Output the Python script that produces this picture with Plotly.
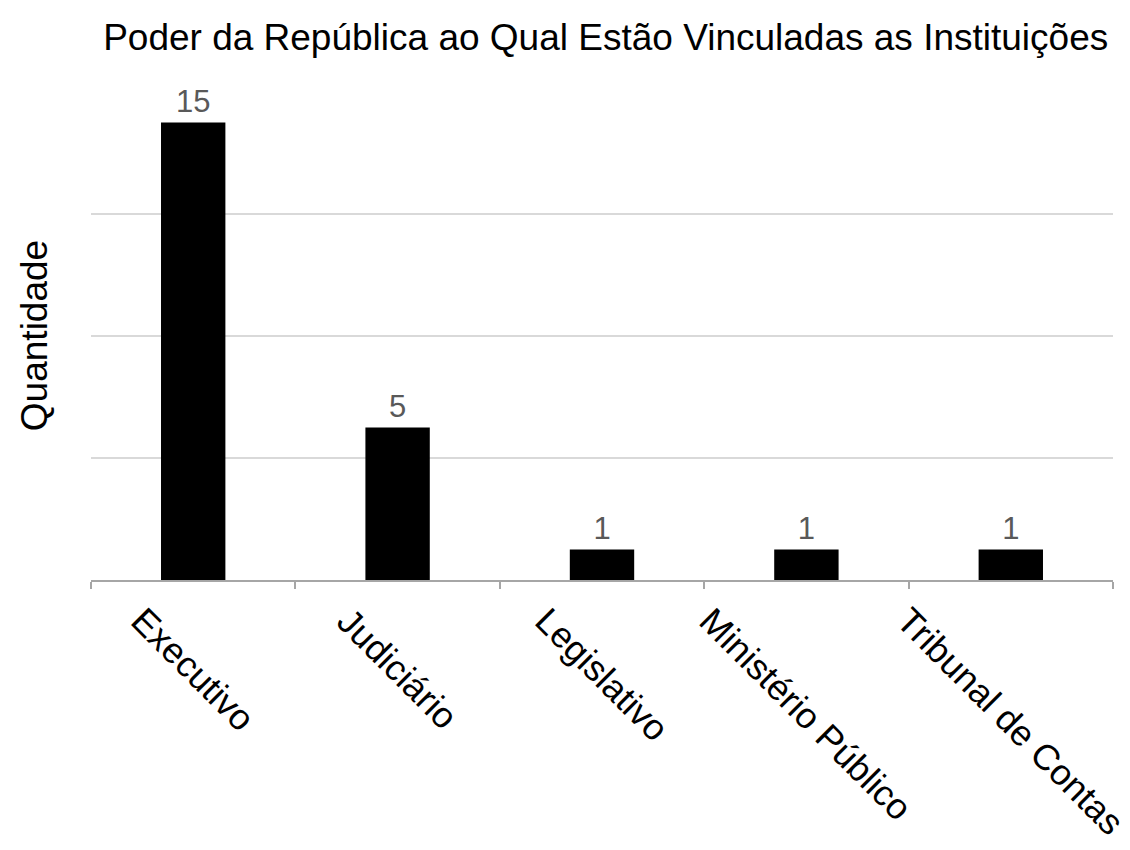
import plotly.graph_objects as go

# Number of institutions linked to each branch of government
poderes = ["Executivo", "Judiciário", "Legislativo", "Ministério Público", "Tribunal de Contas"]
quantidades = [15, 5, 1, 1, 1]

titulo = "Poder da República ao Qual Estão Vinculadas as Instituições"
titulo_y = "Quantidade"

FONT = "Liberation Sans, Arial, sans-serif"

fig = go.Figure(
    go.Bar(
        x=poderes,
        y=quantidades,
        width=0.315,
        marker=dict(color="#000000", line=dict(width=0)),
        text=quantidades,
        textposition="outside",
        textfont=dict(family=FONT, size=31, color="#595959"),
        cliponaxis=False,
    )
)

# Rotated category labels, centred under each bar
for p in poderes:
    fig.add_annotation(
        x=p, y=0, xref="x", yref="paper",
        text=p, textangle=45, showarrow=False,
        xanchor="center", yanchor="top", yshift=-17,
        font=dict(family=FONT, size=36, color="#000000"),
    )

fig.update_layout(
    width=1130, height=850,
    margin=dict(l=91, r=17, t=91, b=270),
    paper_bgcolor="white", plot_bgcolor="white",
    showlegend=False,
    title=dict(
        text=titulo, x=0.536, xanchor="center", y=0.957, yanchor="middle",
        font=dict(family=FONT, size=37, color="#000000"),
    ),
    xaxis=dict(
        range=[-0.5, len(poderes) - 0.5],
        showticklabels=False,
        ticks="outside", tickson="boundaries", ticklen=7, tickwidth=2, tickcolor="#a6a6a6",
        showline=True, linecolor="#a6a6a6", linewidth=2,
        showgrid=False, zeroline=False,
    ),
    yaxis=dict(
        range=[0, 16.03], tickvals=[4, 8, 12, 16], showticklabels=False,
        showgrid=True, gridcolor="#d9d9d9", gridwidth=2,
        zeroline=False, showline=False, ticks="",
        title=dict(text=titulo_y, font=dict(family=FONT, size=37, color="#000000"), standoff=31),
    ),
)

fig.write_html("out.html")
